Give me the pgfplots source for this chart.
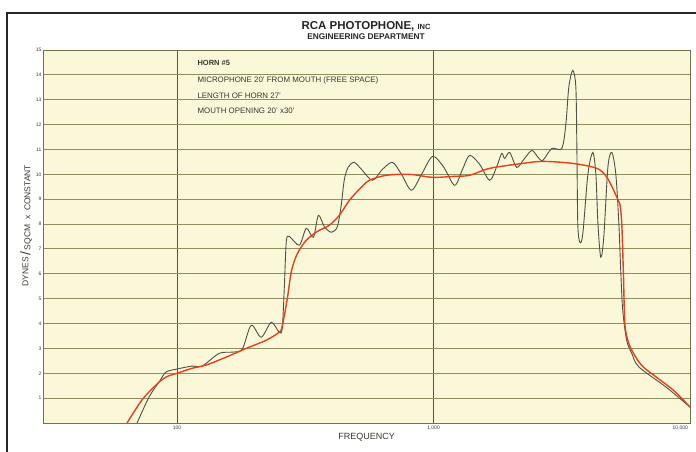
\documentclass[border=0pt]{standalone}
\usepackage{pgfplots}
\pgfplotsset{compat=1.18}
\usepackage{fontspec}
\setmainfont{Liberation Sans}
\definecolor{bgc}{HTML}{FBF8DA}
\definecolor{gridc}{HTML}{8E8E5E}
\definecolor{vgrid}{HTML}{55554A}
\definecolor{blk}{HTML}{4C5246}
\definecolor{redc}{HTML}{E8401C}
\definecolor{txt}{HTML}{3A3A30}
\begin{document}
\begin{tikzpicture}[x=1pt,y=1pt]
\path[use as bounding box] (0,0) rectangle (696,452);
\draw[line width=1.8pt, black!85] (7,0) -- (7,439) -- (696,439);
\begin{axis}[at={(43pt,29pt)}, anchor=south west, scale only axis,
  width=647pt, height=373pt,
  xmode=log, xmin=30, xmax=10000, ymin=0, ymax=15,
  axis background/.style={fill=bgc},
  axis line style={gridc!80!black, line width=0.6pt},
  xtick={100,1000,10000}, xticklabels={100,{1,000},{\makebox[0pt][r]{10,000}\hspace*{4pt}}},
  ytick={1,2,...,15},
  xmajorgrids, ymajorgrids,
  x grid style={vgrid, line width=0.7pt},
  y grid style={gridc, line width=0.9pt},
  minor tick num=0, log ticks with fixed point,
  tick style={draw=none},
  /pgf/number format/assume math mode=true,
  tick label style={font=\fontsize{5}{6}\selectfont, text=txt},
  yticklabel style={xshift=2pt},
  xticklabel style={yshift=1pt},
  xlabel={FREQUENCY}, xlabel style={font=\fontsize{9}{10}\selectfont, text=txt, yshift=3pt},
  ylabel={\raisebox{2pt}{DYNES}\,{\fontsize{14}{14}\selectfont/}\,SQCM\ \ x\ \ CONSTANT},
  ylabel style={font=\fontsize{8.5}{10}\selectfont, text=txt, yshift=-3pt, xshift=11pt},
]
\addplot[blk, line width=0.9pt, smooth, tension=0.5] coordinates {
(69.8,0) (77.8,1.05) (85.1,1.65) (90.6,2.05) (100,2.17) (114.4,2.29) (125.2,2.29)
(145.9,2.8) (163.9,2.85) (179.5,2.97) (194.5,3.93) (212.9,3.45) (232.9,4.05) (250,3.65)
(257,3.8) (262,5.5) (266.6,7.3) (274,7.5) (299.6,7.15) (319,7.83) (340,7.47) (355.6,8.35)
(375,7.9) (399.6,7.67) (421.7,7.9) (437,8.8) (449,9.8) (465.6,10.3) (491,10.48) (523.6,10.2)
(577.7,9.76) (632,10.2) (691.8,10.48) (750,10.0) (820,9.36) (898,10.0) (991,10.72)
(1094,10.3) (1208,9.56) (1297,10.2) (1382,10.76) (1513,10.4) (1655,9.76) (1762,10.3)
(1845,10.84) (1893,10.64) (1981,10.88) (2110,10.28) (2248,10.6) (2415,10.96) (2548,10.7)
(2667,10.56) (2891,11.04) (3162,11.04) (3280,12.0) (3368,13.5) (3491,14.18) (3589,13.5)
(3622,11.0) (3652,8.0) (3718,7.27) (3819,7.6) (3999,10.0) (4178,10.88) (4295,10.0)
(4376,8.0) (4487,6.67) (4613,7.5) (4786,10.3) (4957,10.88) (5138,10.0) (5280,8.0)
(5375,6.0) (5470,4.5) (5670,3.3) (5930,2.8) (6325,2.25) (8054,1.45) (10000,0.64)
};
\addplot[redc, line width=1.4pt, smooth, tension=0.5] coordinates {
(63.8,0) (72.9,0.92) (82.8,1.53) (90.6,1.85) (100,2.0) (114.4,2.2) (129.8,2.33)
(155.4,2.65) (186,3.0) (222.6,3.33) (250,3.65) (257,3.9) (269,5.0) (279,6.1) (294,6.8)
(319,7.35) (352,7.7) (392,7.95) (429,8.35) (470,8.96) (514,9.4) (562,9.76) (655,9.96)
(806,10.0) (991,9.88) (1208,9.92) (1382,9.96) (1655,10.24) (2228,10.44) (2667,10.52)
(3491,10.44) (4335,10.24) (4742,9.88) (5186,9.08) (5330,8.8) (5420,8.0) (5500,6.0)
(5570,4.0) (5730,3.3) (5930,2.93) (6325,2.45) (6790,2.13) (8590,1.33) (10000,0.64)
};
\end{axis}
\node[font=\bfseries\fontsize{11.5}{13}\selectfont, text=black!85] at (366,426) {RCA PHOTOPHONE, {\fontsize{7.5}{8}\selectfont INC}};
\node[font=\bfseries\fontsize{8.3}{9}\selectfont, text=black!85] at (366,415) {ENGINEERING DEPARTMENT};
\node[anchor=west, font=\bfseries\fontsize{7.5}{8}\selectfont, text=txt] at (194,389) {HORN \#5};
\node[anchor=west, font=\fontsize{7.9}{8}\selectfont, text=txt] at (194,372) {MICROPHONE 20' FROM MOUTH (FREE SPACE)};
\node[anchor=west, font=\fontsize{7.9}{8}\selectfont, text=txt] at (194,356) {LENGTH OF HORN 27'};
\node[anchor=west, font=\fontsize{7.9}{8}\selectfont, text=txt] at (194,341) {MOUTH OPENING 20' x30'};
\end{tikzpicture}
\end{document}
